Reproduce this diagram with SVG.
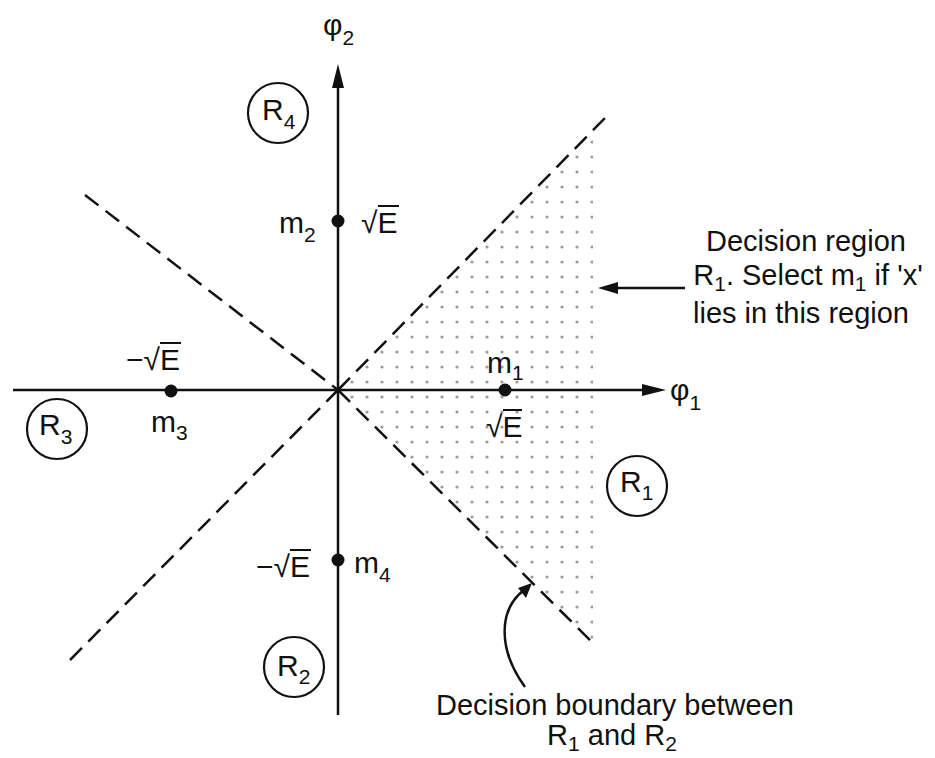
<svg xmlns="http://www.w3.org/2000/svg" width="935" height="758" viewBox="0 0 935 758">
<defs>
<style>
text{font-family:"Liberation Sans",Arial,sans-serif;fill:#111;}
.lbl{font-size:30px;}
.sub{font-size:21px;}
.ann{font-size:29px;}
.axis{stroke:#111;stroke-width:2.5;fill:none;}
.dash{stroke:#111;stroke-width:2.5;stroke-dasharray:17 9;fill:none;}
.circ{stroke:#111;stroke-width:2.2;fill:none;}
.pt{fill:#111;}
</style>
<pattern id="dots" x="0" y="0" width="15" height="15" patternUnits="userSpaceOnUse">
<circle cx="7" cy="7" r="1.6" fill="#9a9a9a"/>
</pattern>
</defs>

<g id="shaded-region">
<polygon points="338,390 593,135 593,643" fill="url(#dots)"/>
</g>

<g id="connectors">
<line class="dash" x1="85" y1="195" x2="338" y2="390"/>
<line class="dash" x1="338" y1="390" x2="605" y2="118"/>
<line class="dash" x1="70" y1="660" x2="338" y2="390"/>
<line class="dash" x1="338" y1="390" x2="593" y2="643"/>
<line class="axis" x1="338" y1="715" x2="338" y2="80"/>
<polygon points="338,64 332,88 344,88" fill="#111"/>
<line class="axis" x1="13" y1="390" x2="650" y2="390" stroke-width="3"/>
<polygon points="666,390 642,384 642,396" fill="#111"/>
<line class="axis" x1="685" y1="288" x2="612" y2="288" stroke-width="2.2"/>
<polygon points="598,288 618,282 618,294" fill="#111"/>
<path class="axis" d="M525,687 C498,650 498,610 524,590" stroke-width="2.2"/>
<polygon points="532,583 518,588 526,598" fill="#111"/>
</g>

<g id="axis-labels">
<text class="lbl" x="323" y="35">φ<tspan class="sub" dy="10">2</tspan></text>
<text class="lbl" x="670" y="400">φ<tspan class="sub" dy="10">1</tspan></text>
</g>

<g id="m1">
<circle class="pt" cx="505" cy="390" r="6.5"/>
<text class="lbl" x="487" y="373">m<tspan class="sub" dy="7">1</tspan></text>
<text class="lbl" x="486" y="437">√E</text>
<line x1="503" y1="410" x2="522" y2="410" stroke="#111" stroke-width="2"/>
</g>

<g id="m2">
<circle class="pt" cx="338" cy="221" r="6.5"/>
<text class="lbl" x="279" y="233">m<tspan class="sub" dy="9">2</tspan></text>
<text class="lbl" x="361" y="233">√E</text>
<line x1="378" y1="206" x2="399" y2="206" stroke="#111" stroke-width="2"/>
</g>

<g id="m3">
<circle class="pt" cx="171" cy="391" r="6.5"/>
<text class="lbl" x="126" y="370">−√E</text>
<line x1="160" y1="343" x2="181" y2="343" stroke="#111" stroke-width="2"/>
<text class="lbl" x="151" y="432">m<tspan class="sub" dy="8">3</tspan></text>
</g>

<g id="m4">
<circle class="pt" cx="338" cy="560" r="6.5"/>
<text class="lbl" x="256" y="577">−√E</text>
<line x1="290" y1="550" x2="311" y2="550" stroke="#111" stroke-width="2"/>
<text class="lbl" x="354" y="573">m<tspan class="sub" dy="9">4</tspan></text>
</g>

<g id="R1">
<circle class="circ" cx="637" cy="486" r="30"/>
<text class="lbl" x="620" y="492">R<tspan class="sub" dy="8">1</tspan></text>
</g>
<g id="R2">
<circle class="circ" cx="294" cy="667" r="30"/>
<text class="lbl" x="277" y="676">R<tspan class="sub" dy="8">2</tspan></text>
</g>
<g id="R3">
<circle class="circ" cx="57" cy="429" r="30"/>
<text class="lbl" x="39" y="435">R<tspan class="sub" dy="9">3</tspan></text>
</g>
<g id="R4">
<circle class="circ" cx="278" cy="113" r="30"/>
<text class="lbl" x="262" y="120">R<tspan class="sub" dy="9">4</tspan></text>
</g>

<g id="annotation-region">
<text class="ann" text-anchor="middle" x="806" y="251">Decision region</text>
<text class="ann" text-anchor="middle" x="808" y="285">R<tspan class="sub" dy="6">1</tspan><tspan dy="-6">. Select m</tspan><tspan class="sub" dy="6">1</tspan><tspan dy="-6"> if 'x'</tspan></text>
<text class="ann" text-anchor="middle" x="801" y="323">lies in this region</text>
</g>

<g id="annotation-boundary">
<text class="ann" text-anchor="middle" x="615" y="715">Decision boundary between</text>
<text class="ann" text-anchor="middle" x="612" y="745">R<tspan class="sub" dy="6">1</tspan><tspan dy="-6"> and R</tspan><tspan class="sub" dy="6">2</tspan></text>
</g>
</svg>
